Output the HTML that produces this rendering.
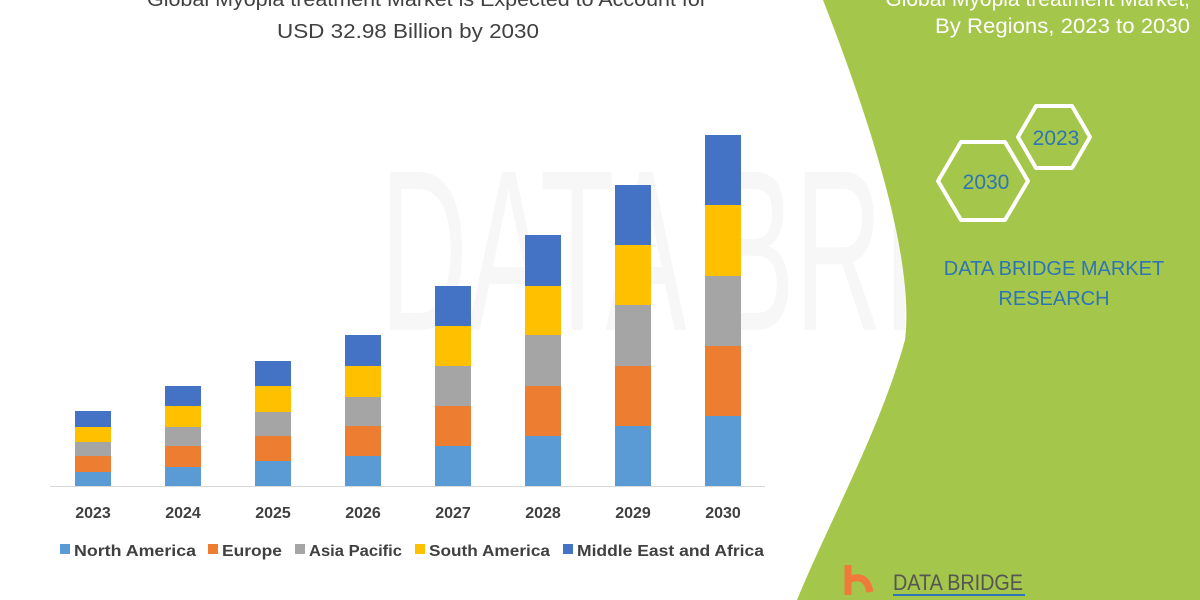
<!DOCTYPE html>
<html><head><meta charset="utf-8"><style>
body{margin:0;width:1200px;height:600px;overflow:hidden;background:#fff;font-family:"Liberation Sans",sans-serif}
</style></head><body>
<svg width="1200" height="600" xmlns="http://www.w3.org/2000/svg" style="position:absolute;left:0;top:0">
<text x="380" y="330" font-size="230" fill="#f7f7f7" font-family="Liberation Sans" textLength="800" lengthAdjust="spacingAndGlyphs">DATA BRIDGE</text>
<path d="M823,0 L1200,0 L1200,600 L797,600 C830,520 880,430 905,340 C915,260 870,120 823,0 Z" fill="#a4c64a"/>
<text x="147" y="6" font-size="20" fill="#404040" textLength="560" lengthAdjust="spacingAndGlyphs">Global Myopia treatment Market is Expected to Account for</text>
<text x="277" y="38" font-size="20" fill="#404040" textLength="262" lengthAdjust="spacingAndGlyphs">USD 32.98 Billion by 2030</text>
<text x="1190" y="6" font-size="21" fill="#fff" text-anchor="end">Global Myopia treatment Market,</text>
<text x="935" y="33" font-size="21" fill="#fff" textLength="255" lengthAdjust="spacingAndGlyphs">By Regions, 2023 to 2030</text>
<polygon points="1018,137 1036,106 1072,106 1090,137 1072,168 1036,168" fill="none" stroke="#fff" stroke-width="4" stroke-linejoin="round"/>
<polygon points="938,181 961,142 1005,142 1028,181 1005,220 961,220" fill="none" stroke="#fff" stroke-width="4" stroke-linejoin="round"/>
<text x="1056" y="145" font-size="21" fill="#2e75b6" text-anchor="middle">2023</text>
<text x="986" y="189" font-size="21" fill="#2e75b6" text-anchor="middle">2030</text>
<text x="1054" y="275" font-size="20" fill="#2e75b6" text-anchor="middle">DATA BRIDGE MARKET</text>
<text x="1054" y="305" font-size="20" fill="#2e75b6" text-anchor="middle">RESEARCH</text>
<path d="M848,565 L848,595 M848,580 Q866,572 870,592" stroke="#f07a3a" stroke-width="7" fill="none"/>
<text x="893" y="590" font-size="22" fill="#555" textLength="130" lengthAdjust="spacingAndGlyphs">DATA BRIDGE</text>
<line x1="893" y1="595" x2="1025" y2="595" stroke="#2e75b6" stroke-width="2"/>
<line x1="50" y1="486.5" x2="765" y2="486.5" stroke="#d9d9d9" stroke-width="1"/>
<g id="bars"></g>
<g font-size="16" font-weight="bold" fill="#404040" text-anchor="middle">
<text x="93" y="518">2023</text><text x="183" y="518">2024</text><text x="273" y="518">2025</text><text x="363" y="518">2026</text>
<text x="453" y="518">2027</text><text x="543" y="518">2028</text><text x="633" y="518">2029</text><text x="723" y="518">2030</text>
</g>
<g font-size="16" font-weight="bold" fill="#404040">
<rect x="60" y="544" width="10" height="10" fill="#5b9bd5"/><text x="74" y="556" textLength="122" lengthAdjust="spacingAndGlyphs">North America</text>
<rect x="208" y="544" width="10" height="10" fill="#ed7d31"/><text x="222" y="556" textLength="60" lengthAdjust="spacingAndGlyphs">Europe</text>
<rect x="295" y="544" width="10" height="10" fill="#a5a5a5"/><text x="309" y="556" textLength="93" lengthAdjust="spacingAndGlyphs">Asia Pacific</text>
<rect x="415" y="544" width="10" height="10" fill="#ffc000"/><text x="429" y="556" textLength="121" lengthAdjust="spacingAndGlyphs">South America</text>
<rect x="563" y="544" width="10" height="10" fill="#4472c4"/><text x="577" y="556" textLength="187" lengthAdjust="spacingAndGlyphs">Middle East and Africa</text>
</g>
</svg>
<script>
var d=[[472,456,442,427,411],[467,446,427,406,386],[461,436,412,386,361],[456,426,397,366,335],[446,406,366,326,286],[436,386,335,286,235],[426,366,305,245,185],[416,346,276,205,135]];
var c=["#5b9bd5","#ed7d31","#a5a5a5","#ffc000","#4472c4"];var s="";
d.forEach(function(b,i){var x=75+90*i,prev=486;b.forEach(function(y,j){s+='<rect x="'+x+'" y="'+y+'" width="36" height="'+(prev-y)+'" fill="'+c[j]+'"/>';prev=y;});});
document.getElementById("bars").innerHTML=s;
</script>
</body></html>
